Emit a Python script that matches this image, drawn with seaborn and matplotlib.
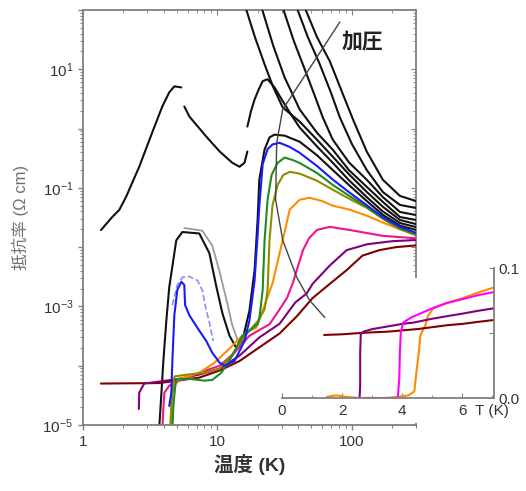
import matplotlib
matplotlib.use("Agg")
import matplotlib.pyplot as plt
import seaborn as sns
from matplotlib.ticker import LogLocator, NullFormatter, FuncFormatter, FixedLocator
from matplotlib.patches import Rectangle

sns.set_style("ticks")
plt.rcParams['font.family'] = ['Liberation Sans', 'Noto Sans CJK JP']

# ================= MAIN PANEL DATA (T in K, resistivity in Ohm cm) =================

# ambient pressure, insulating (two segments)
a1_T = [1.36, 1.65, 1.86, 2.09, 2.62, 3.27, 3.89, 4.38, 4.78, 5.39]
a1_r = [0.0194, 0.0322, 0.0424, 0.0703, 0.227, 0.855, 2.36, 4.08, 5.15, 4.95]
a2_T = [5.67, 6.18, 8.27, 10.4, 12.9, 14.6, 15.9, 16.7]
a2_r = [2.36, 1.60, 0.73, 0.41, 0.265, 0.227, 0.265, 0.41]

# insulating black curves
p1_T = [44.6, 55, 68.5, 85, 102, 129, 170, 228, 300]
p1_r = [110, 35, 13.7, 4.0, 1.42, 0.41, 0.137, 0.073, 0.060]
p2_T = [38.9, 47, 57.7, 70, 81.4, 100, 129, 170, 228, 300]
p2_r = [110, 35, 12.2, 4.0, 1.54, 0.55, 0.20, 0.085, 0.0515, 0.0458]
p3_T = [30.6, 37, 44.6, 52, 60.8, 72.1, 95, 129, 170, 228, 300]
p3_r = [110, 30, 10, 4.0, 1.54, 0.65, 0.27, 0.137, 0.07, 0.0392, 0.0348]
p4_T = [21.3, 26, 31.6, 40.9, 55, 72.1, 95, 129, 170, 228, 300]
p4_r = [110, 25, 7.3, 2.1, 0.85, 0.44, 0.2, 0.104, 0.058, 0.0322, 0.0287]
p5_T = [16.2, 19, 22.4, 26, 30.6, 40.9, 55, 72.1, 95, 129, 170, 228, 300]
p5_r = [110, 35, 12.2, 5.0, 2.27, 1.31, 0.65, 0.335, 0.17, 0.0855, 0.048, 0.0287, 0.0245]
pb_T = [16.7, 17.8, 18.9, 20.3, 21.7, 23.6, 26.6, 30.6, 34.5, 40.9, 55, 72.1, 95, 129, 170, 228, 300]
pb_r = [1.08, 2.0, 3.1, 4.6, 6.3, 6.8, 4.95, 2.9, 1.87, 1.04, 0.5, 0.265, 0.135, 0.070, 0.040, 0.0255, 0.0218]

# black curve with re-entrant dome
c_T = [3.69, 3.82, 3.96, 4.17, 4.38, 4.94, 5.48, 7.33, 8.71, 9.84, 10.9, 12.3, 13.8, 15.3,
       17.3, 18.9, 19.9, 20.5, 22.4, 24.4, 26.6, 31.6, 40.9, 55, 72.1, 95, 129, 170, 228, 300]
c_r = [9e-6, 3.1e-5, 1.2e-4, 5.8e-4, 2.1e-3, 1.3e-2, 1.8e-2, 1.7e-2, 7.9e-3, 2.1e-3, 7.6e-4,
       3.2e-4, 2.0e-4, 2.6e-4, 8.5e-4, 4.1e-3, 2.9e-2, 0.138, 0.44, 0.71, 0.79, 0.76, 0.60,
       0.355, 0.20, 0.112, 0.060, 0.035, 0.023, 0.0195]
cw_T = [5.67, 7.7, 9.15, 10.3, 11.7, 12.9, 14.6]
cw_r = [0.021, 0.019, 0.0107, 4.1e-3, 1.26e-3, 4.8e-4, 2.2e-4]

blue_T = [4.38, 4.54, 4.62, 4.78, 5.03, 5.39, 5.67, 5.75, 6.18, 7.33, 8.27, 9.15, 10.4, 11.3,
          13.4, 15.9, 17.3, 18.9, 19.9, 20.5, 21.7, 23.6, 25.7, 29.0, 34.5, 40.9, 55, 72.1,
          95, 129, 170, 228, 300]
blue_r = [2.1e-5, 3.5e-5, 1.2e-4, 7.1e-4, 1.9e-3, 2.6e-3, 2.3e-3, 1.05e-3, 7.1e-4, 3.9e-4,
          2.6e-4, 1.66e-4, 1.12e-4, 1.0e-4, 1.2e-4, 2.6e-4, 5.8e-4, 2.75e-3, 1.58e-2, 5.0e-2,
          0.25, 0.45, 0.54, 0.575, 0.49, 0.39, 0.234, 0.138, 0.085, 0.051, 0.032, 0.022, 0.0174]
lblue_T = [4.62, 5.03, 5.48, 6.18, 7.1, 7.74, 8.1, 8.71, 9.3]
lblue_r = [1.05e-3, 2.3e-3, 3.1e-3, 3.2e-3, 2.75e-3, 1.86e-3, 1.05e-3, 5.4e-4, 2.6e-4]

green_T = [4.62, 4.7, 4.86, 5.03, 6.18, 7.98, 9.15, 10.7, 12.9, 15.3, 17.3, 19.9, 20.5, 21.7,
           22.4, 23.6, 25.3, 28.0, 31.6, 36.3, 40.9, 55, 72.1, 95, 129, 170, 228, 300]
green_r = [8e-6, 2.1e-5, 4.6e-5, 6.0e-5, 6.0e-5, 5.6e-5, 5.75e-5, 7.6e-5, 1.48e-4, 3.2e-4,
           3.9e-4, 5.0e-4, 6.3e-4, 1.86e-3, 1.26e-2, 6.3e-2, 0.166, 0.263, 0.324, 0.295, 0.263,
           0.178, 0.112, 0.074, 0.048, 0.031, 0.021, 0.0166]

olive_T = [4.46, 4.6, 4.8, 6.0, 8.0, 10.4, 13.0, 16.0, 19.9, 22.4, 23.6, 24.4, 25.7, 28.0,
           31.0, 34.5, 40.9, 55, 72.1, 95, 129, 170, 228, 300]
olive_r = [8e-6, 3.2e-5, 6.6e-5, 7.1e-5, 7.6e-5, 8.9e-5, 1.58e-4, 3.2e-4, 5.6e-4, 8.9e-4,
           1.86e-3, 1.32e-2, 5.1e-2, 0.112, 0.166, 0.186, 0.174, 0.132, 0.093, 0.066, 0.046,
           0.030, 0.020, 0.0158]

orange_T = [4.46, 4.54, 4.7, 5.2, 7.33, 9.5, 12.3, 15.3, 17.3, 19.5, 21.7, 25.7, 30.6, 34.5,
            40.9, 48.6, 60, 72.1, 96, 129, 170, 228, 300]
orange_r = [8e-6, 2.6e-5, 4.6e-5, 6.0e-5, 7.6e-5, 1.12e-4, 1.95e-4, 3.2e-4, 3.9e-4, 4.4e-4,
            8.5e-4, 2.45e-3, 1.32e-2, 4.3e-2, 6.3e-2, 6.8e-2, 6.0e-2, 5.0e-2, 4.3e-2, 3.4e-2,
            2.6e-2, 2.0e-2, 1.78e-2]

pink_T = [3.89, 3.95, 4.03, 4.38, 5.2, 7.33, 10.4, 13.4, 17.3, 21.3, 24.4, 29.0, 33.0, 36.3,
          40.0, 43.3, 48.0, 55, 68.5, 96, 170, 300]
pink_r = [8e-6, 1.74e-5, 3.5e-5, 4.6e-5, 5.6e-5, 7.6e-5, 1.0e-4, 1.66e-4, 3.2e-4, 4.2e-4,
          5.0e-4, 8.9e-4, 1.41e-3, 2.45e-3, 5.0e-3, 8.9e-3, 1.41e-2, 1.95e-2, 2.2e-2, 1.95e-2,
          1.55e-2, 1.41e-2]

purple_T = [2.6, 2.62, 2.85, 3.69, 5.2, 7.33, 10.4, 14.6, 20.5, 29.0, 38, 46.2, 51, 68.5,
            91.5, 130, 200, 300]
purple_r = [1.86e-5, 3.5e-5, 5.0e-5, 5.4e-5, 6.0e-5, 7.1e-5, 8.9e-5, 1.48e-4, 3.0e-4, 5.1e-4,
            1.17e-3, 1.66e-3, 2.4e-3, 4.9e-3, 8.9e-3, 1.12e-2, 1.26e-2, 1.32e-2]

brown_T = [1.36, 3.69, 7.33, 10.4, 14.6, 20.5, 29.0, 38.9, 51, 68.5, 91.5, 120, 160, 213, 300]
brown_r = [5.0e-5, 5.1e-5, 6.3e-5, 8.3e-5, 1.2e-4, 2.04e-4, 3.5e-4, 6.8e-4, 1.38e-3, 2.4e-3,
           4.1e-3, 7.2e-3, 8.9e-3, 1.0e-2, 1.07e-2]

# pressure arrow line
arrow_T = [81.4, 30.6, 27.6, 27.1, 30.6, 38.9, 48.6, 62.9]
arrow_r = [62.7, 2.1, 0.58, 0.0626, 0.0131, 3.1e-3, 1.26e-3, 6.5e-4]

# ================= INSET DATA (T in K, linear resistivity) =================

in_brown_T = [1.4, 2.0, 2.6, 3.0, 3.5, 4.0, 4.5, 5.0, 5.5, 6.0, 6.5, 7.05]
in_brown_r = [0.0485, 0.049, 0.050, 0.0505, 0.051, 0.052, 0.053, 0.0545, 0.056, 0.057, 0.0585, 0.060]
in_purple_T = [2.35, 2.5, 2.58, 2.6, 2.6, 2.62, 2.7, 3.0, 3.5, 4.0, 4.37, 5.0, 5.5, 6.03, 6.5, 7.05]
in_purple_r = [0, 0, 0, 0.01, 0.035, 0.049, 0.051, 0.053, 0.055, 0.057, 0.058, 0.061, 0.063,
               0.065, 0.067, 0.069]
in_pink_T = [2.6, 3.0, 3.5, 3.85, 3.9, 3.92, 3.95, 4.03, 4.3, 4.7, 5.0, 5.47, 6.0, 6.5, 7.05]
in_pink_r = [0, 0, 0, 0, 0.015, 0.035, 0.05, 0.058, 0.062, 0.066, 0.069, 0.073, 0.076, 0.079, 0.0815]
in_orange_T = [1.5, 1.8, 2.1, 2.5, 3.0, 3.5, 3.9, 4.2, 4.4, 4.47, 4.55, 4.6, 4.7, 4.77, 4.85,
               5.03, 5.47, 6.03, 6.5, 7.05]
in_orange_r = [0.001, 0.002, 0.001, 0, 0, 0, 0.001, 0.002, 0.005, 0.02, 0.035, 0.048, 0.053,
               0.056, 0.063, 0.069, 0.073, 0.077, 0.081, 0.085]

# ================= COLOURS =================

BLACK = "#111111"
GREY = "#9a9a9a"
BLUE = "#1a1aff"
LBLUE = "#8c8cff"
GREEN = "#1e8c1e"
OLIVE = "#8c8c00"
ORANGE = "#ff8c00"
PINK = "#f0148c"
PURPLE = "#800080"
BROWN = "#800000"
MAGENTA = "#ff00ff"
SPINE = "#808080"
TXT = "#333333"


def draw(ax, T, r, color, lw=1.5, **kw):
    sns.lineplot(x=T, y=r, color=color, lw=lw, ax=ax, estimator=None, sort=False, **kw)


# ================= FIGURE =================

fig = plt.figure(figsize=(5.26, 4.91), dpi=100)
ax = fig.add_axes([83 / 526, 66 / 491, 333 / 526, 415 / 491])
ax.set_xscale("log")
ax.set_yscale("log")

for T, r in [(a1_T, a1_r), (a2_T, a2_r), (p1_T, p1_r), (p2_T, p2_r), (p3_T, p3_r),
             (p4_T, p4_r), (p5_T, p5_r), (pb_T, pb_r)]:
    draw(ax, T, r, BLACK)

draw(ax, cw_T, cw_r, GREY, lw=1.3)
draw(ax, c_T, c_r, BLACK)
draw(ax, brown_T, brown_r, BROWN)
draw(ax, purple_T, purple_r, PURPLE)
draw(ax, pink_T, pink_r, PINK)
draw(ax, orange_T, orange_r, ORANGE)
draw(ax, olive_T, olive_r, OLIVE)
draw(ax, green_T, green_r, GREEN)
draw(ax, lblue_T, lblue_r, LBLUE, lw=1.2, linestyle="--")
draw(ax, blue_T, blue_r, BLUE)
draw(ax, arrow_T, arrow_r, "#444444", lw=1.0)

ax.set_xlim(1, 300)
ax.set_ylim(1e-5, 100)

ax.text(0.838, 0.923, "加圧", transform=ax.transAxes, fontsize=15, fontweight="bold",
        ha="center", va="center", color="#222222")

# ticks: left/bottom outward, top/right inward
ax.yaxis.set_major_locator(LogLocator(base=10, numticks=20))
ax.yaxis.set_minor_locator(LogLocator(base=10, subs=range(2, 10), numticks=20))
ax.yaxis.set_minor_formatter(NullFormatter())
ax.yaxis.set_major_formatter(FuncFormatter(
    lambda v, p: r"$\mathregular{10^{%d}}$" % round(__import__("math").log10(v))
    if round(__import__("math").log10(v)) in (1, -1, -3, -5) else ""))
ax.xaxis.set_major_locator(FixedLocator([1, 10, 100]))
ax.xaxis.set_major_formatter(FuncFormatter(lambda v, p: "%d" % v))
ax.xaxis.set_minor_locator(LogLocator(base=10, subs=range(2, 10), numticks=20))
ax.xaxis.set_minor_formatter(NullFormatter())
ax.tick_params(which="both", direction="out", colors=SPINE, labelcolor=TXT, labelsize=11,
               top=False, right=False)
ax.tick_params(which="major", length=3.5, width=1)
ax.tick_params(which="minor", length=2, width=0.8)

for side in ["top", "right"]:
    ax.spines[side].set_visible(False)
for side in ["left", "bottom"]:
    ax.spines[side].set_color(SPINE)
    ax.spines[side].set_linewidth(1.3)

top = ax.secondary_xaxis("top")
top.xaxis.set_major_locator(FixedLocator([1, 10, 100]))
top.xaxis.set_minor_locator(LogLocator(base=10, subs=range(2, 10), numticks=20))
top.xaxis.set_major_formatter(NullFormatter())
top.xaxis.set_minor_formatter(NullFormatter())
top.tick_params(which="both", direction="in", colors=SPINE)
top.tick_params(which="major", length=3.5)
top.tick_params(which="minor", length=2)
top.spines["top"].set_color(SPINE)
top.spines["top"].set_linewidth(1.3)

right = ax.secondary_yaxis("right")
right.yaxis.set_major_locator(LogLocator(base=10, numticks=20))
right.yaxis.set_minor_locator(LogLocator(base=10, subs=range(2, 10), numticks=20))
right.yaxis.set_major_formatter(NullFormatter())
right.yaxis.set_minor_formatter(NullFormatter())
right.tick_params(which="both", direction="in", colors=SPINE)
right.tick_params(which="major", length=3.5)
right.tick_params(which="minor", length=2)
right.spines["right"].set_color(SPINE)
right.spines["right"].set_linewidth(1.3)

# right spine is hidden behind the inset below ~3e-3
ax.add_patch(Rectangle((0.985, 0.006), 0.05, 0.348, transform=ax.transAxes,
                       facecolor="white", edgecolor="none", zorder=10, clip_on=False))

ax.set_xlabel("温度 (K)", fontsize=14, fontweight="bold", color=TXT, labelpad=4)
ax.set_ylabel("抵抗率 (Ω cm)", fontsize=12, color="#707070", labelpad=10)

# ================= INSET =================

ins = fig.add_axes([282 / 526, 93 / 491, 212 / 526, 130 / 491])
ins.set_facecolor("none")
draw(ins, in_orange_T, in_orange_r, ORANGE, lw=1.5)
draw(ins, in_brown_T, in_brown_r, BROWN, lw=1.5)
draw(ins, in_purple_T, in_purple_r, PURPLE, lw=1.5)
draw(ins, in_pink_T, in_pink_r, MAGENTA, lw=1.5)
ins.set_xlim(0, 7.05)
ins.set_ylim(0, 0.1)
ins.set_xlabel("")
ins.set_ylabel("")
ins.spines["left"].set_visible(False)
ins.spines["top"].set_visible(False)
for side in ["right", "bottom"]:
    ins.spines[side].set_color(SPINE)
    ins.spines[side].set_linewidth(1.3)
ins.yaxis.tick_right()
ins.set_xticks([0, 2, 4, 6])
ins.set_xticks([1, 3, 5, 7], minor=True)
ins.set_yticks([0, 0.05, 0.1])
ins.set_yticklabels(["0.0", "", "0.1"])
ins.tick_params(which="both", direction="in", colors=SPINE, labelcolor=TXT, labelsize=11)
ins.tick_params(which="major", length=3.5)
ins.tick_params(which="minor", length=2)
ins.tick_params(axis="x", pad=4)
ins.text(0.99, -0.05, "T (K)", transform=ins.transAxes, fontsize=11, color=TXT,
         ha="center", va="top")

fig.savefig("out.png", dpi=100)
